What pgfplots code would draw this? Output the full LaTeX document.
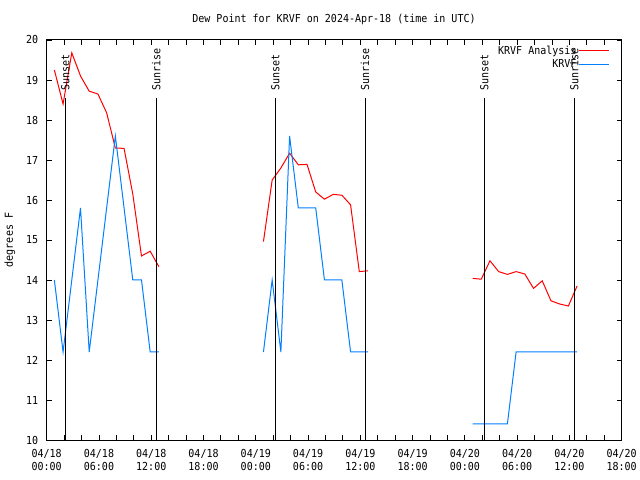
\documentclass[border=0pt]{standalone}
\usepackage{fontspec}
\setmainfont[FakeStretch=0.91]{DejaVu Sans Mono}
\usepackage{pgfplots}
\pgfplotsset{compat=1.18}
\definecolor{obsblue}{RGB}{0,128,255}
\newcommand{\gf}{\fontsize{11bp}{13bp}\selectfont}
\begin{document}
\begin{tikzpicture}[font=\gf]
\useasboundingbox (0,0) rectangle (640bp,480bp);
\fill[white] (0,0) rectangle (640bp,480bp);
\begin{axis}[
  at={(46.7bp,40bp)}, anchor=south west,
  scale only axis, width=575bp, height=400bp,
  xmin=0, xmax=66, ymin=10, ymax=20,
  axis line style={black, line width=1bp},
  tick align=inside, major tick length=5bp, minor tick length=5bp,
  every tick/.style={black, line width=0.9bp},
  xtick pos=both, ytick pos=both,
  xticklabel pos=lower, yticklabel pos=left,
  xtick={0,6,...,66},
  xticklabels={{04/18\\00:00},{04/18\\06:00},{04/18\\12:00},{04/18\\18:00},{04/19\\00:00},{04/19\\06:00},{04/19\\12:00},{04/19\\18:00},{04/20\\00:00},{04/20\\06:00},{04/20\\12:00},{04/20\\18:00}},
  minor xtick={2,4,8,10,14,16,20,22,26,28,32,34,38,40,44,46,50,52,56,58,62,64},
  ytick={10,11,...,20},
  yticklabels={10,11,12,13,14,15,16,17,18,19,20},
  xticklabel style={align=center, font=\gf, yshift=-6bp},
  yticklabel style={font=\gf, xshift=-5bp},
  unbounded coords=jump,
  legend plot pos=right,
  legend cell align=right,
  legend image code/.code={\draw[#1] (0bp,0bp) -- (30bp,0bp);},
  legend style={draw=none, fill=none, at={(1,1)}, anchor=north east,
    xshift=-9bp, yshift=-1.5bp, font=\gf, row sep=0bp,
    nodes={inner sep=2bp}},
]
\addplot[red, line width=1bp] coordinates {
(0.88,19.25)(1.88,18.4)(2.88,19.68)(3.88,19.1)(4.88,18.72)(5.88,18.65)(6.88,18.18)(7.88,17.3)(8.88,17.29)(9.88,16.15)(10.88,14.6)(11.88,14.72)(12.88,14.33)
(18,nan)
(24.88,14.96)(25.88,16.5)(26.88,16.8)(27.88,17.17)(28.88,16.88)(29.88,16.89)(30.88,16.2)(31.88,16.02)(32.88,16.14)(33.88,16.12)(34.88,15.88)(35.88,14.21)(36.88,14.23)
(42,nan)
(48.88,14.04)(49.88,14.02)(50.88,14.48)(51.88,14.21)(52.88,14.14)(53.88,14.21)(54.88,14.15)(55.88,13.79)(56.88,13.98)(57.88,13.48)(58.88,13.4)(59.88,13.35)(60.88,13.85)
};
\addlegendentry{KRVF Analysis}
\addplot[obsblue, line width=1bp] coordinates {
(0.88,14.0)(1.88,12.2)(3.88,15.8)(4.88,12.2)(7.88,17.6)(9.88,14.0)(10.88,14.0)(11.88,12.2)(12.88,12.2)
(18,nan)
(24.88,12.2)(25.88,14.0)(26.88,12.2)(27.88,17.6)(28.88,15.8)(30.88,15.8)(31.88,14.0)(33.88,14.0)(34.88,12.2)(36.88,12.2)
(42,nan)
(48.88,10.4)(52.88,10.4)(53.88,12.2)(60.88,12.2)
};
\addlegendentry{KRVF}
\addplot[black, line width=1bp, forget plot] coordinates {(2.13,10)(2.13,18.55)};
\addplot[black, line width=1bp, forget plot] coordinates {(12.58,10)(12.58,18.55)};
\addplot[black, line width=1bp, forget plot] coordinates {(26.24,10)(26.24,18.55)};
\addplot[black, line width=1bp, forget plot] coordinates {(36.54,10)(36.54,18.55)};
\addplot[black, line width=1bp, forget plot] coordinates {(50.23,10)(50.23,18.55)};
\addplot[black, line width=1bp, forget plot] coordinates {(60.56,10)(60.56,18.55)};
\node[rotate=90, anchor=west, inner sep=0pt, xshift=1bp] at (axis cs:2.13,18.7) {Sunset};
\node[rotate=90, anchor=west, inner sep=0pt, xshift=1bp] at (axis cs:12.58,18.7) {Sunrise};
\node[rotate=90, anchor=west, inner sep=0pt, xshift=1bp] at (axis cs:26.24,18.7) {Sunset};
\node[rotate=90, anchor=west, inner sep=0pt, xshift=1bp] at (axis cs:36.54,18.7) {Sunrise};
\node[rotate=90, anchor=west, inner sep=0pt, xshift=1bp] at (axis cs:50.23,18.7) {Sunset};
\node[rotate=90, anchor=west, inner sep=0pt, xshift=1bp] at (axis cs:60.56,18.7) {Sunrise};
\end{axis}
\node at (334bp,461bp) {Dew Point for KRVF on 2024-Apr-18 (time in UTC)};
\node[rotate=90] at (10bp,240bp) {degrees F};
\end{tikzpicture}
\end{document}
